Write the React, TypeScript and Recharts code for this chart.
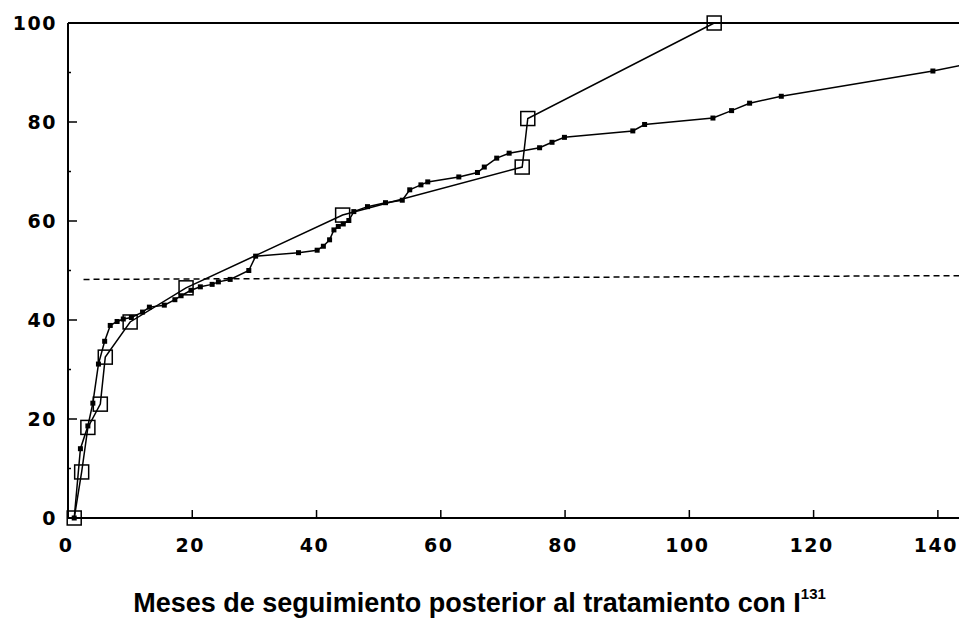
import { LineChart, Line, XAxis, YAxis, ReferenceLine } from 'recharts';

// open squares
const monthsA = [1, 2.2, 3.2, 5.2, 6, 10, 19, 44.2, 73.1, 74, 104];
const pctA = [0, 9.3, 18.3, 23, 32.5, 39.6, 46.5, 61.2, 70.9, 80.7, 100];

// small filled markers
const monthsB = [
  1, 2, 3.2, 4, 4.9, 5.9, 6.8, 7.9, 8.9, 10.2, 12, 13.1, 15.5, 17.2, 18.2, 19.8,
  21.3, 23.2, 24.2, 26.1, 29.1, 30.2, 37.1, 40.1, 41.1, 42.1, 42.8, 43.5, 44.3,
  45.2, 46, 48.2, 51.1, 53.8, 55, 56.8, 57.9, 62.9, 65.9, 67, 69, 71, 75.9, 77.9,
  79.9, 90.9, 92.8, 103.8, 106.8, 109.7, 114.8, 139.2, 144,
];
const pctB = [
  0, 14, 18.6, 23.2, 31.1, 35.7, 38.9, 39.7, 40.2, 40.5, 41.6, 42.6, 43, 44.1,
  44.9, 46, 46.7, 47.2, 47.7, 48.2, 50, 52.9, 53.6, 54.1, 54.9, 56.2, 58.2, 58.9,
  59.4, 60.1, 61.9, 62.9, 63.7, 64.2, 66.3, 67.3, 67.9, 68.9, 69.8, 70.9, 72.7,
  73.7, 74.8, 75.9, 76.9, 78.2, 79.5, 80.8, 82.3, 83.8, 85.2, 90.3, 91.5,
];

const xTicks = [0, 20, 40, 60, 80, 100, 120, 140];
const yTicks = [0, 10, 20, 30, 40, 50, 60, 70, 80, 90, 100];
const dashStart = { x: 2.5, y: 48.2 };
const dashEnd = { x: 150, y: 49.0 };

const seriesA = monthsA.map((x, i) => ({ x, y: pctA[i] }));
const seriesB = monthsB.map((x, i) => ({ x, y: pctB[i] }));

const PLOT_LEFT = 68;
const PLOT_BOTTOM = 518;
const tickFont = {
  fontFamily: 'DejaVu Sans, sans-serif',
  fontWeight: 'bold' as const,
  fontSize: 19,
  letterSpacing: 1.5,
  fill: '#000',
};

function YTick(props: any) {
  const { y, payload } = props;
  const v = payload.value;
  const major = v % 20 === 0;
  return (
    <g>
      <line x1={PLOT_LEFT} x2={PLOT_LEFT + (major ? 9 : 3)} y1={y} y2={y} stroke="#000" strokeWidth={1.5} />
      {major && (
        <text x={PLOT_LEFT - 11} y={y} dy={7} textAnchor="end" {...tickFont}>
          {v}
        </text>
      )}
    </g>
  );
}

function XTick(props: any) {
  const { x, payload } = props;
  return (
    <g>
      <line x1={x} x2={x} y1={PLOT_BOTTOM} y2={PLOT_BOTTOM - 8} stroke="#000" strokeWidth={1.5} />
      <text x={x - 2} y={PLOT_BOTTOM + 34} textAnchor="middle" {...tickFont}>
        {payload.value}
      </text>
    </g>
  );
}

function OpenSquare(props: any) {
  const { cx, cy, index } = props;
  return <rect key={`a${index}`} x={cx - 7} y={cy - 7} width={14} height={14} fill="none" stroke="#000" strokeWidth={1.5} />;
}

function SmallSquare(props: any) {
  const { cx, cy, index } = props;
  return <rect key={`b${index}`} x={cx - 2.5} y={cy - 2.5} width={5} height={5} fill="#000" />;
}

export default function App() {
  return (
    <div style={{ position: 'absolute', left: 0, top: 0, width: 959, height: 619, overflow: 'hidden', background: '#fff' }}>
      <LineChart width={1000} height={619} margin={{ top: 23, right: 0, bottom: 0, left: 0 }}>
        <XAxis
          type="number"
          dataKey="x"
          domain={[0, 150]}
          ticks={xTicks}
          interval={0}
          height={101}
          tickLine={false}
          axisLine={{ stroke: '#000', strokeWidth: 2 }}
          tick={(p: any) => <XTick {...p} />}
        />
        <YAxis
          type="number"
          domain={[0, 100]}
          ticks={yTicks}
          interval={0}
          width={68}
          tickLine={false}
          axisLine={{ stroke: '#000', strokeWidth: 2 }}
          tick={(p: any) => <YTick {...p} />}
        />
        <ReferenceLine y={100} stroke="#000" strokeWidth={2} />
        <ReferenceLine segment={[dashStart, dashEnd]} stroke="#000" strokeWidth={1.5} strokeDasharray="6 4" />
        <Line
          data={seriesB}
          dataKey="y"
          stroke="#000"
          strokeWidth={1.5}
          dot={(p: any) => <SmallSquare {...p} />}
          isAnimationActive={false}
        />
        <Line
          data={seriesA}
          dataKey="y"
          stroke="#000"
          strokeWidth={1.5}
          dot={(p: any) => <OpenSquare {...p} />}
          isAnimationActive={false}
        />
      </LineChart>
      <div
        style={{
          position: 'absolute',
          left: 0,
          top: 589,
          width: 959,
          textAlign: 'center',
          fontFamily: 'Liberation Sans, Arial, sans-serif',
          fontWeight: 'bold',
          fontSize: 27,
          lineHeight: '28px',
          color: '#000',
        }}
      >
        Meses de seguimiento posterior al tratamiento con I
        <sup style={{ fontSize: 15, verticalAlign: 'top', position: 'relative', top: -9 }}>131</sup>
      </div>
    </div>
  );
}
